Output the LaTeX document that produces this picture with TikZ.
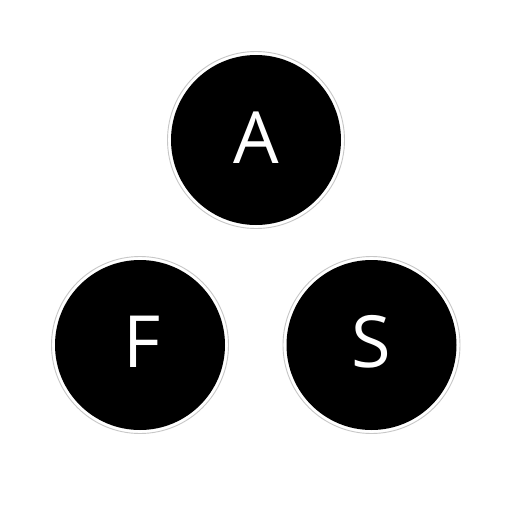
\documentclass[tikz,border=0pt]{standalone}
\usepackage{fontspec}
\setmainfont{Open Sans}
\begin{document}
\begin{tikzpicture}[x=1pt,y=-1pt,
  disk/.style={circle,fill=black,minimum size=170pt,inner sep=0pt,text=white,font=\fontsize{72}{72}\selectfont},
  ringc/.style={draw=black!22,line width=0.9pt}]
\useasboundingbox[fill=white] (0,0) rectangle (512,512);
\node[disk] (A) at (256,140) {};
\node[disk] (F) at (140,345) {};
\node[disk] (S) at (371.5,345) {};
\foreach \n in {A,F,S}{\draw[ringc] (\n.center) circle[radius=88.5pt];}
\node[text=white,font=\fontsize{72}{72}\selectfont,inner sep=0pt] (tA) at (256,137.5) {A};
\node[text=white,font=\fontsize{72}{72}\selectfont,inner sep=0pt] (tF) at (142,342) {F};
\node[text=white,font=\fontsize{72}{72}\selectfont,inner sep=0pt] (tS) at (371.5,342) {S};
\end{tikzpicture}
\end{document}
